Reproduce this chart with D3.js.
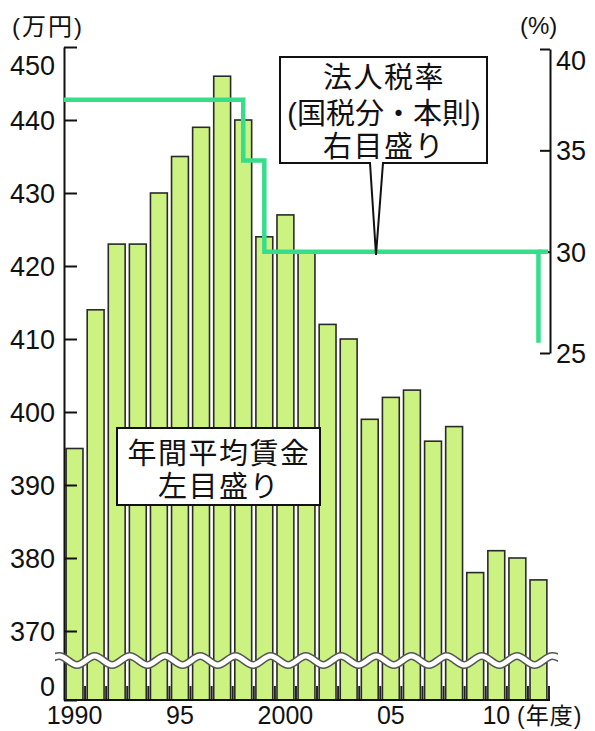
<!DOCTYPE html>
<html>
<head>
<meta charset="utf-8">
<script src="https://cdn.jsdelivr.net/npm/d3@7"></script>
<style>
    body { margin: 0; background: #fff; }
    text { font-family: "Liberation Sans", Arial, "Noto Sans CJK JP", sans-serif; fill: #111; }
</style>
</head>
<body>
<svg id="chart" width="595" height="731"></svg>
<script>
// fiscal years on the x axis
const years = [1990, 1991, 1992, 1993, 1994, 1995, 1996, 1997, 1998, 1999, 2000, 2001,
               2002, 2003, 2004, 2005, 2006, 2007, 2008, 2009, 2010, 2011, 2012];
// average annual wage, 万円 (left scale)
const wages = [395, 414, 423, 423, 430, 435, 439, 446, 440, 424, 427, 422,
               412, 410, 399, 402, 403, 396, 398, 378, 381, 380, 377];
// corporate tax rate, % (right scale)
const taxRate = [37.5, 37.5, 37.5, 37.5, 37.5, 37.5, 37.5, 37.5, 34.5, 30, 30, 30,
                 30, 30, 30, 30, 30, 30, 30, 30, 30, 30, 25.5];

const leftTicks = [0, 370, 380, 390, 400, 410, 420, 430, 440, 450];
const rightTicks = [25, 30, 35, 40];
const xLabelYears = [1990, 1995, 2000, 2005, 2010];
const xLabelText = ['1990', '95', '2000', '05', '10'];

const svg = d3.select('#chart');

let x = d3.scaleBand().domain(years).range([64, 549]).paddingInner(0.2).paddingOuter(0.1);
// broken axis: 0 sits just below the break, then 370..450
let y = d3.scaleLinear().domain([0, 370, 450]).range([700, 631, 47]);
let yR = d3.scaleLinear().domain([25, 40]).range([353, 49]);

// bars
svg.append('g').selectAll('rect')
    .data(years)
    .enter()
    .append('rect')
    .attr('x', d => x(d))
    .attr('y', (d, i) => y(wages[i]))
    .attr('width', x.bandwidth())
    .attr('height', (d, i) => y(0) - y(wages[i]))
    .style('fill', '#ccf282')
    .style('stroke', '#2a2a2a')
    .style('stroke-width', 1.6);

// small ticks in the gaps at the base
let gapX = years.slice(1).map(d => x(d) - x.step() * x.paddingInner() / 2);
gapX.push(549);
svg.append('g').selectAll('line')
    .data(gapX)
    .enter()
    .append('line')
    .attr('x1', d => d).attr('x2', d => d)
    .attr('y1', 686).attr('y2', 700)
    .style('stroke', '#222')
    .style('stroke-width', 2);

svg.append('line')
    .attr('x1', 64).attr('x2', 550)
    .attr('y1', 700).attr('y2', 700)
    .style('stroke', '#111').style('stroke-width', 2);

// left axis
let yAxis = d3.axisLeft(y).tickValues(leftTicks).tickSize(-13).tickSizeOuter(0).tickPadding(9);
let gL = svg.append('g').attr('transform', 'translate(64,0)').call(yAxis);
gL.selectAll('text').style('font-size', '27px').style('fill', '#111')
    .attr('dy', d => d === 450 ? '1.0em' : d === 0 ? '-0.17em' : '0.35em');

// right axis
let yAxisR = d3.axisRight(yR).tickValues(rightTicks).tickSize(-10).tickSizeOuter(0).tickPadding(6);
let gR = svg.append('g').attr('transform', 'translate(550,0)').call(yAxisR);
gR.selectAll('text').style('font-size', '27px').style('fill', '#111')
    .attr('dy', d => d === 40 ? '0.75em' : '0.35em');

[gL, gR].forEach(g => {
    g.select('.domain').style('stroke', '#111').style('stroke-width', 2);
    g.selectAll('.tick line').style('stroke', '#111').style('stroke-width', 2);
});

// wavy break across the bars
let clip = svg.append('clipPath').attr('id', 'waveClip');
clip.append('rect').attr('x', 55).attr('y', 630).attr('width', 503).attr('height', 60);
let half = 17.6;
let wavePts = d3.range(41.8, 575, half).map((px, i) => [px, i % 2 === 0 ? 665 : 656]);
let wave = d3.line().curve(d3.curveMonotoneX);
let gW = svg.append('g').attr('clip-path', 'url(#waveClip)');
gW.append('path').attr('d', wave(wavePts))
    .style('fill', 'none').style('stroke', '#555').style('stroke-width', 8);
gW.append('path').attr('d', wave(wavePts))
    .style('fill', 'none').style('stroke', '#fff').style('stroke-width', 5);

// tax rate step line
let cx = d => x(d) + x.bandwidth() / 2;
let linePts = [[64, yR(taxRate[0])]].concat(years.map((d, i) => [cx(d), yR(taxRate[i])]));
let step = d3.line().curve(d3.curveStepAfter);
svg.append('path').attr('d', step(linePts))
    .style('fill', 'none').style('stroke', '#36de8c').style('stroke-width', 4.5);
// the 30% level runs on to the right axis
svg.append('line')
    .attr('x1', cx(2012)).attr('x2', 548)
    .attr('y1', yR(taxRate[21])).attr('y2', yR(taxRate[21]))
    .style('stroke', '#36de8c').style('stroke-width', 4.5);

// callouts
svg.append('path')
    .attr('d', 'M280,57H487V163H383L376,255L370,163H280Z')
    .style('fill', '#fff').style('stroke', '#111').style('stroke-width', 2);
svg.append('rect')
    .attr('x', 117).attr('y', 428).attr('width', 203).attr('height', 77)
    .style('fill', '#fff').style('stroke', '#111').style('stroke-width', 2);

let callText = (lines, cxPos, ys, spacing) => {
    lines.forEach((t, i) => {
        svg.append('text')
            .attr('x', cxPos).attr('y', ys[i])
            .attr('text-anchor', 'middle')
            .style('font-size', '29px')
            .style('letter-spacing', spacing[i] + 'px')
            .text(t);
    });
};
callText(['法人税率', '(国税分・本則)', '右目盛り'], 384, [88, 124, 157], [1.5, 0, 1.5]);
callText(['年間平均賃金', '左目盛り'], 219, [464, 497], [1.5, 1.5]);

// unit labels
svg.append('text').attr('x', 12).attr('y', 35)
    .style('font-size', '24px').style('letter-spacing', '2px').text('(万円)');
svg.append('text').attr('x', 520).attr('y', 34)
    .style('font-size', '24px').text('(%)');

// x labels
svg.append('g').selectAll('text')
    .data(xLabelYears)
    .enter()
    .append('text')
    .attr('x', d => cx(d))
    .attr('y', 724)
    .attr('text-anchor', 'middle')
    .style('font-size', '25px')
    .text((d, i) => xLabelText[i]);
svg.append('text').attr('x', 517).attr('y', 724)
    .style('font-size', '23px').style('letter-spacing', '1px').text('(年度)');
</script>
</body>
</html>
